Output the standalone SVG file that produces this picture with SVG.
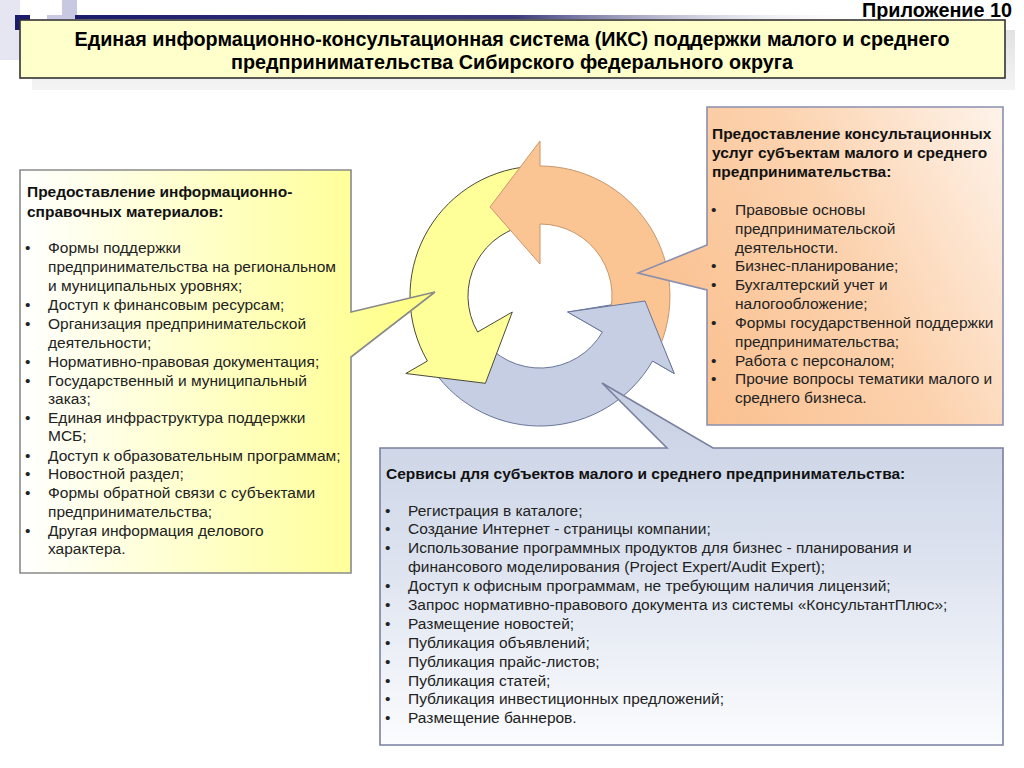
<svg xmlns="http://www.w3.org/2000/svg" width="1024" height="768" viewBox="0 0 1024 768">
<defs>
<linearGradient id="navyLine" x1="0" y1="0" x2="1" y2="0">
<stop offset="0" stop-color="#1c1c6e"/>
<stop offset="0.55" stop-color="#3a3a7a"/>
<stop offset="1" stop-color="#ffffff" stop-opacity="0"/>
</linearGradient>
<linearGradient id="gYellow" gradientUnits="userSpaceOnUse" x1="20" y1="0" x2="435" y2="0">
<stop offset="0" stop-color="#ffffff"/>
<stop offset="0.45" stop-color="#ffffc8"/>
<stop offset="1" stop-color="#ffff80"/>
</linearGradient>
<linearGradient id="gOrange" gradientUnits="userSpaceOnUse" x1="640" y1="300" x2="1003" y2="107">
<stop offset="0" stop-color="#fac08f"/>
<stop offset="0.5" stop-color="#fcd2ae"/>
<stop offset="1" stop-color="#fef3ea"/>
</linearGradient>
<linearGradient id="gBlue" gradientUnits="userSpaceOnUse" x1="0" y1="383" x2="0" y2="745">
<stop offset="0" stop-color="#c6cfe3"/>
<stop offset="0.5" stop-color="#dde3ef"/>
<stop offset="1" stop-color="#fbfcfe"/>
</linearGradient>
<linearGradient id="gShadow" x1="0" y1="0" x2="0" y2="1">
<stop offset="0" stop-color="#e2e2e2"/>
<stop offset="1" stop-color="#f4f4f4"/>
</linearGradient>
</defs>
<style>
text { font-family: "Liberation Sans", Arial, sans-serif; }
.title { font-size: 19.8px; font-weight: bold; fill: #000; }
.hdr { font-size: 15.5px; font-weight: bold; fill: #111; }
.item { font-size: 15.5px; fill: #222; }
.box { stroke-width: 1.6; }
.arr { stroke-width: 1; stroke-linejoin: round; }
</style>

<!-- decoration -->
<g id="decoration">
<rect x="0" y="0" width="20" height="60" fill="#e6e6f2"/>
<rect x="62" y="0" width="15" height="16" fill="#c8c8e2"/>
<rect x="47" y="15" width="28" height="4" fill="#c8c8e2"/>
<rect x="75" y="15" width="800" height="4" fill="url(#navyLine)"/>
<rect x="15" y="15" width="15" height="15" fill="#1c1c6e"/>
<rect x="32" y="30" width="983" height="60" fill="url(#gShadow)"/>
</g>

<text x="1012" y="17" text-anchor="end" class="title">Приложение 10</text>

<g id="title">
<rect x="20" y="20" width="985" height="58" fill="#ffffcc" stroke="#333" stroke-width="1.6"/>
<text x="512" y="46" text-anchor="middle" class="title">Единая информационно-консультационная система (ИКС) поддержки малого и среднего</text>
<text x="512" y="69" text-anchor="middle" class="title">предпринимательства Сибирского федерального округа</text>
</g>

<!-- cycle arrows -->
<g id="cycle">
<path id="arrowBlue" class="arr" fill="#c5cee2" stroke="#69769a" d="M433.5,370.6 A130,130 0 0 0 652.6,361 L674.2,373.5 L642.9,299.6 L567.7,312 L602.4,332 A72,72 0 0 1 481,337.3 Z"/>
<path id="arrowYellow" class="arr" fill="#ffff99" stroke="#4a4a3a" d="M528.7,166.5 A130,130 0 0 0 427.4,361 L405.8,373.5 L485.4,383.3 L512.3,312 L477.6,332 A72,72 0 0 1 533.7,224.3 Z"/>
<path id="arrowOrange" class="arr" fill="#fac493" stroke="#c9966c" d="M657.8,350.9 A130,130 0 0 0 540,166 L540,141 L490,207 L540,264 L540,224 A72,72 0 0 1 605.3,326.4 Z"/>
<g id="blueHead">
<path fill="#c5cee2" stroke="none" d="M652.6,361 L674.2,373.5 L645,301 L567.7,312 L602.4,332 Z"/>
<polyline class="arr" fill="none" stroke="#69769a" points="652.6,361 674.2,373.5 645,301 567.7,312 602.4,332"/>
</g>
</g>

<!-- left box -->
<g id="boxInfo">
<path class="box" fill="url(#gYellow)" stroke="#8a8a8a" d="M20,170 H351 V312 L435,292 L351,357 V573 H20 Z"/>
<text class="hdr" x="27" y="197">Предоставление информационно-</text>
<text class="hdr" x="27" y="217">справочных материалов:</text>
<g class="item">
<text x="25" y="253">•</text><text x="48" y="253">Формы поддержки</text>
<text x="48" y="272">предпринимательства на региональном</text>
<text x="48" y="291">и муниципальных уровнях;</text>
<text x="25" y="310">•</text><text x="48" y="310">Доступ к финансовым ресурсам;</text>
<text x="25" y="329">•</text><text x="48" y="329">Организация предпринимательской</text>
<text x="48" y="348">деятельности;</text>
<text x="25" y="367">•</text><text x="48" y="367">Нормативно-правовая документация;</text>
<text x="25" y="386">•</text><text x="48" y="386">Государственный и муниципальный</text>
<text x="48" y="404">заказ;</text>
<text x="25" y="423">•</text><text x="48" y="423">Единая инфраструктура поддержки</text>
<text x="48" y="441">МСБ;</text>
<text x="25" y="461">•</text><text x="48" y="461">Доступ к образовательным программам;</text>
<text x="25" y="479">•</text><text x="48" y="479">Новостной раздел;</text>
<text x="25" y="498">•</text><text x="48" y="498">Формы обратной связи с субъектами</text>
<text x="48" y="517">предпринимательства;</text>
<text x="25" y="536">•</text><text x="48" y="536">Другая информация делового</text>
<text x="48" y="554">характера.</text>
</g>
</g>

<!-- right box -->
<g id="boxConsult">
<path class="box" fill="url(#gOrange)" stroke="#8a8fae" d="M707,107 H1003 V425 H707 V290 L638,273 L707,245 Z"/>
<text class="hdr" x="712" y="139">Предоставление консультационных</text>
<text class="hdr" x="712" y="158">услуг субъектам малого и среднего</text>
<text class="hdr" x="712" y="177">предпринимательства:</text>
<g class="item">
<text x="711" y="215">•</text><text x="735" y="215">Правовые основы</text>
<text x="735" y="234">предпринимательской</text>
<text x="735" y="253">деятельности.</text>
<text x="711" y="271">•</text><text x="735" y="271">Бизнес-планирование;</text>
<text x="711" y="290">•</text><text x="735" y="290">Бухгалтерский учет и</text>
<text x="735" y="309">налогообложение;</text>
<text x="711" y="328">•</text><text x="735" y="328">Формы государственной поддержки</text>
<text x="735" y="347">предпринимательства;</text>
<text x="711" y="366">•</text><text x="735" y="366">Работа с персоналом;</text>
<text x="711" y="384">•</text><text x="735" y="384">Прочие вопросы тематики малого и</text>
<text x="735" y="403">среднего бизнеса.</text>
</g>
</g>

<!-- bottom box -->
<g id="boxServices">
<path class="box" fill="url(#gBlue)" stroke="#7a80a0" d="M380,448 H667 L602,383 L713,448 H1003 V745 H380 Z"/>
<text class="hdr" x="386" y="479">Сервисы для субъектов малого и среднего предпринимательства:</text>
<g class="item">
<text x="385" y="516">•</text><text x="408" y="516">Регистрация в каталоге;</text>
<text x="385" y="534">•</text><text x="408" y="534">Создание Интернет - страницы компании;</text>
<text x="385" y="553">•</text><text x="408" y="553">Использование программных продуктов для бизнес - планирования и</text>
<text x="408" y="572">финансового моделирования (Project Expert/Audit Expert);</text>
<text x="385" y="591">•</text><text x="408" y="591">Доступ к офисным программам, не требующим наличия лицензий;</text>
<text x="385" y="610">•</text><text x="408" y="610">Запрос нормативно-правового документа из системы «КонсультантПлюс»;</text>
<text x="385" y="629">•</text><text x="408" y="629">Размещение новостей;</text>
<text x="385" y="648">•</text><text x="408" y="648">Публикация объявлений;</text>
<text x="385" y="667">•</text><text x="408" y="667">Публикация прайс-листов;</text>
<text x="385" y="686">•</text><text x="408" y="686">Публикация статей;</text>
<text x="385" y="704">•</text><text x="408" y="704">Публикация инвестиционных предложений;</text>
<text x="385" y="723">•</text><text x="408" y="723">Размещение баннеров.</text>
</g>
</g>
</svg>
